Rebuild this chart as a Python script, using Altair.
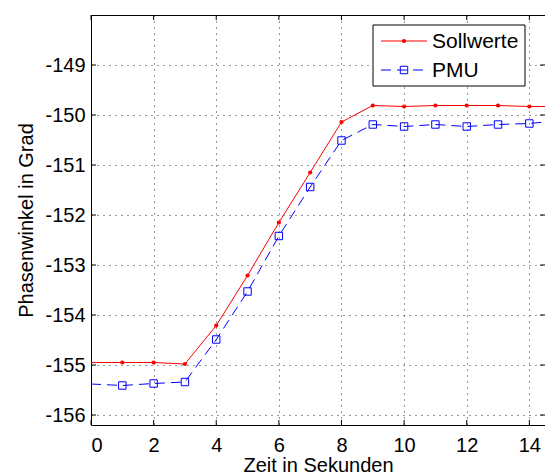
import altair as alt
import pandas as pd

# ---- data ----
time = [0, 1, 2, 3, 4, 5, 6, 7, 8, 9, 10, 11, 12, 13, 14, 14.5]
sollwerte = [-154.95, -154.95, -154.95, -154.98, -154.21, -153.21, -152.15, -151.15,
             -150.14, -149.81, -149.83, -149.81, -149.81, -149.81, -149.83, -149.83]
pmu = [-155.38, -155.41, -155.37, -155.34, -154.49, -153.53, -152.42, -151.44,
       -150.51, -150.19, -150.23, -150.19, -150.23, -150.19, -150.17, -150.14]
x_ticks = [0, 2, 4, 6, 8, 10, 12, 14]
y_ticks = [-156, -155, -154, -153, -152, -151, -150, -149]
series_names = ["Sollwerte", "PMU"]

W, H = 454, 410
FONT = "Liberation Sans"

df = pd.DataFrame({"t": time, "soll": sollwerte, "pmu": pmu})
df["marker"] = [(1 <= t <= 14) for t in time]

xs = alt.Scale(domain=[0, 14.5], nice=False, zero=False)
ys = alt.Scale(domain=[-156.2, -148], nice=False, zero=False)

xax = alt.Axis(values=x_ticks, format="d", title="Zeit in Sekunden", grid=True,
               ticks=False, tickSize=0, domain=False, labelPadding=10, titlePadding=0)
yax = alt.Axis(values=y_ticks, labelExpr="'-' + abs(datum.value)", title="Phasenwinkel in Grad",
               grid=True, ticks=False, tickSize=0, domain=False, labelPadding=6, titlePadding=8)

base = alt.Chart(df)

grid_axes = base.mark_point(opacity=0).encode(
    x=alt.X("t:Q", scale=xs, axis=xax),
    y=alt.Y("soll:Q", scale=ys, axis=yax),
)

red_line = base.mark_line(color="#ff0000", strokeWidth=1, clip=True).encode(
    x=alt.X("t:Q", scale=xs), y=alt.Y("soll:Q", scale=ys))
red_pts = base.transform_filter("datum.marker").mark_point(
    shape="circle", filled=True, color="#ff0000", size=18, opacity=1).encode(
    x=alt.X("t:Q", scale=xs), y=alt.Y("soll:Q", scale=ys))

blue_line = base.mark_line(color="#0000ff", strokeWidth=1, strokeDash=[10, 6], clip=True).encode(
    x=alt.X("t:Q", scale=xs), y=alt.Y("pmu:Q", scale=ys))
blue_pts = base.transform_filter("datum.marker").mark_point(
    shape="square", filled=False, color="#0000ff", size=55, strokeWidth=1, opacity=1).encode(
    x=alt.X("t:Q", scale=xs), y=alt.Y("pmu:Q", scale=ys))

# inward ticks on all four sides
ydf = pd.DataFrame({"v": y_ticks})
xdf = pd.DataFrame({"v": x_ticks})
tk = dict(color="black", strokeWidth=1)
yt_left = alt.Chart(ydf).mark_rule(**tk).encode(y=alt.Y("v:Q", scale=ys), x=alt.value(0), x2=alt.value(5))
yt_right = alt.Chart(ydf).mark_rule(**tk).encode(y=alt.Y("v:Q", scale=ys), x=alt.value(W - 5), x2=alt.value(W))
xt_bot = alt.Chart(xdf).mark_rule(**tk).encode(x=alt.X("v:Q", scale=xs), y=alt.value(H - 5), y2=alt.value(H))
xt_top = alt.Chart(xdf).mark_rule(**tk).encode(x=alt.X("v:Q", scale=xs), y=alt.value(0), y2=alt.value(5))

# legend box
leg = pd.DataFrame({"name": series_names})
leg_box = alt.Chart(leg.head(1)).mark_rect(fill="white", stroke="black", strokeWidth=1).encode(
    x=alt.value(282), x2=alt.value(434), y=alt.value(10), y2=alt.value(71))
leg_red = alt.Chart(leg.head(1)).mark_rule(color="#ff0000", strokeWidth=1).encode(
    x=alt.value(290), x2=alt.value(336), y=alt.value(26))
leg_red_pt = alt.Chart(leg.head(1)).mark_point(shape="circle", filled=True, color="#ff0000", size=18, opacity=1).encode(
    x=alt.value(313), y=alt.value(26))
leg_blue = alt.Chart(leg.head(1)).mark_rule(color="#0000ff", strokeWidth=1, strokeDash=[10, 6]).encode(
    x=alt.value(290), x2=alt.value(336), y=alt.value(55))
leg_blue_pt = alt.Chart(leg.head(1)).mark_point(shape="square", filled=False, color="#0000ff", size=55, strokeWidth=1, opacity=1).encode(
    x=alt.value(313), y=alt.value(55))
leg_txt1 = alt.Chart(leg.iloc[[0]]).mark_text(align="left", baseline="middle", fontSize=21, font=FONT, color="black").encode(
    x=alt.value(341), y=alt.value(27), text="name:N")
leg_txt2 = alt.Chart(leg.iloc[[1]]).mark_text(align="left", baseline="middle", fontSize=21, font=FONT, color="black").encode(
    x=alt.value(341), y=alt.value(56), text="name:N")

chart = alt.layer(
    grid_axes, yt_left, yt_right, xt_bot, xt_top,
    red_line, red_pts, blue_line, blue_pts,
    leg_box, leg_red, leg_red_pt, leg_blue, leg_blue_pt, leg_txt1, leg_txt2,
).properties(
    width=W, height=H,
    background="white",
    autosize=alt.AutoSizeParams(type="none"),
    padding={"left": 91, "top": 15, "right": 0, "bottom": 51},
).configure_view(
    stroke="black", strokeWidth=1
).configure_axis(
    labelFont=FONT, titleFont=FONT, labelFontSize=20, titleFontSize=20,
    labelColor="black", titleColor="black", titleFontWeight="normal",
    gridColor="#000000", gridOpacity=0.8, gridDash=[1, 5], gridWidth=1,
)

chart.save("out.html", embed_options={"renderer": "svg", "actions": False})
